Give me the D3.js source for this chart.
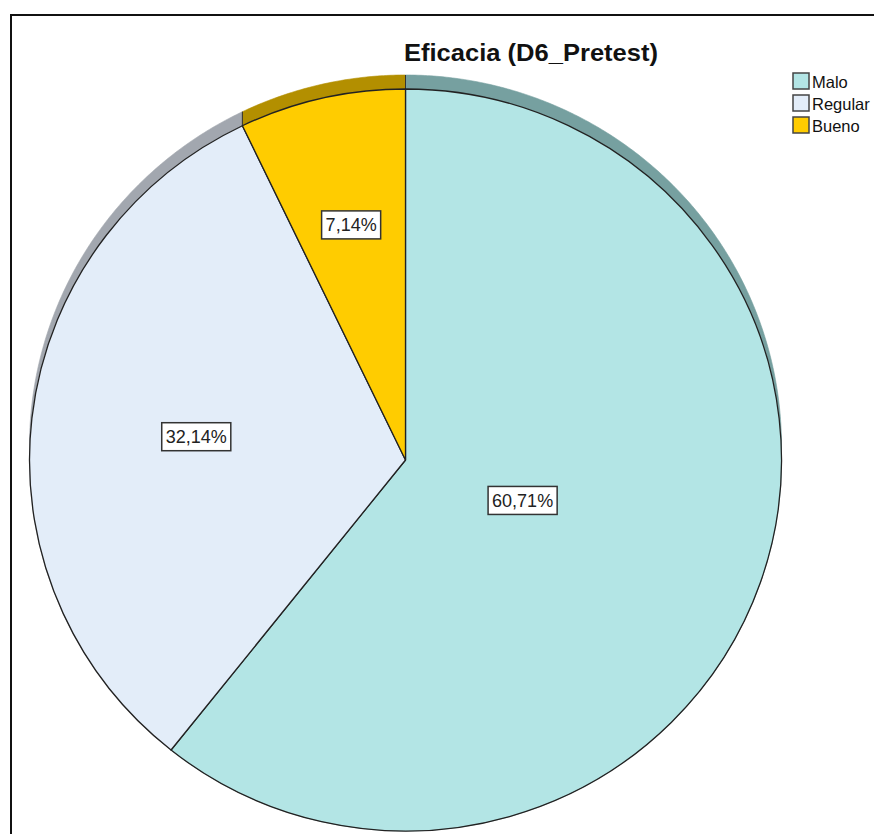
<!DOCTYPE html>
<html>
<head>
<meta charset="utf-8">
<script src="https://cdn.jsdelivr.net/npm/d3@7"></script>
<style>
  html, body { margin: 0; padding: 0; background: #fff; }
  svg { display: block; font-family: Arial, "Liberation Sans", sans-serif; }
</style>
</head>
<body>
<svg id="chart" width="874" height="834"></svg>
<script>
// Eficacia (D6_Pretest) — distribución porcentual
const title = "Eficacia (D6_Pretest)";
const categories = ["Malo", "Regular", "Bueno"];
const percents = [60.71, 32.14, 7.14];
const faceColors = ["#b3e5e5", "#e3edf9", "#ffcc00"];
const sideColors = ["#76a0a0", "#a2a7af", "#b38f00"];

// layout
const W = 874, H = 834;
const cx = 405.5, cy = 460, rx = 376, ry = 371, depth = 14;
const labelRadius = { Malo: 0.33, Regular: 0.56, Bueno: 0.65 };

const svg = d3.select("#chart");

// outer frame (runs past the right and bottom edges)
svg.append("rect")
  .attr("x", 11).attr("y", 15)
  .attr("width", W + 20).attr("height", H + 20)
  .attr("fill", "#fff").attr("stroke", "#111").attr("stroke-width", 2);

const data = categories.map((c, i) => ({ cat: c, value: percents[i], face: faceColors[i], side: sideColors[i] }));

const pie = d3.pie().sort(null).value(d => d.value).startAngle(0).endAngle(2 * Math.PI);
const arcs = pie(data);

const px = a => cx + rx * Math.sin(a);
const py = (a, off = 0) => cy - ry * Math.cos(a) - off;

// side wall of the extruded pie (visible along the upper rim)
const line = d3.line();
const wall = svg.append("g");
arcs.forEach(s => {
  const n = Math.max(8, Math.ceil((s.endAngle - s.startAngle) * 120));
  const angles = d3.range(n + 1).map(k => s.startAngle + (s.endAngle - s.startAngle) * k / n);
  const pts = angles.map(a => [px(a), py(a)])
    .concat(angles.slice().reverse().map(a => [px(a), py(a, depth)]));
  wall.append("path")
    .attr("d", line(pts) + "Z")
    .attr("fill", s.data.side)
    .attr("stroke", s.data.side)
    .attr("stroke-width", 0.6);
});
// vertical edges of the wall at slice boundaries
arcs.forEach(s => {
  const a = s.startAngle;
  if (Math.cos(a) > 0) {
    wall.append("line")
      .attr("x1", px(a)).attr("x2", px(a))
      .attr("y1", py(a)).attr("y2", py(a, depth))
      .attr("stroke", "#333").attr("stroke-width", 1);
  }
});

// top faces
const arc = d3.arc().innerRadius(0).outerRadius(rx);
const faces = svg.append("g")
  .attr("transform", `translate(${cx},${cy}) scale(1,${ry / rx})`);
faces.selectAll("path")
  .data(arcs)
  .join("path")
  .attr("d", arc)
  .attr("fill", d => d.data.face)
  .attr("stroke", "#222")
  .attr("stroke-width", 1.3)
  .attr("stroke-linejoin", "round")
  .attr("vector-effect", "non-scaling-stroke");

// percentage labels in boxes
const fmt = v => v.toFixed(2).replace(".", ",") + "%";
const labels = svg.append("g");
arcs.forEach(s => {
  const mid = (s.startAngle + s.endAngle) / 2;
  const k = labelRadius[s.data.cat];
  const lx = cx + rx * k * Math.sin(mid);
  const ly = cy - ry * k * Math.cos(mid);
  const g = labels.append("g").attr("transform", `translate(${lx},${ly})`);
  const box = g.append("rect");
  const t = g.append("text")
    .attr("text-anchor", "middle")
    .attr("dy", "0.36em")
    .attr("font-size", 18)
    .attr("fill", "#222")
    .text(fmt(s.data.value));
  const tw = t.node().getComputedTextLength();
  box.attr("x", -tw / 2 - 4).attr("y", -14)
    .attr("width", tw + 8).attr("height", 28)
    .attr("fill", "#fff").attr("stroke", "#333").attr("stroke-width", 1.5);
});

// title
svg.append("text")
  .attr("x", 531).attr("y", 61)
  .attr("text-anchor", "middle")
  .attr("font-size", 24)
  .attr("font-weight", "bold")
  .attr("fill", "#111")
  .attr("textLength", 254)
  .attr("lengthAdjust", "spacingAndGlyphs")
  .text(title);

// legend
const legend = svg.append("g").attr("transform", "translate(793,73)");
const rows = legend.selectAll("g")
  .data(data)
  .join("g")
  .attr("transform", (d, i) => `translate(0,${i * 22})`);
rows.append("rect")
  .attr("width", 16).attr("height", 16)
  .attr("fill", d => d.face)
  .attr("stroke", "#444").attr("stroke-width", 1.5);
rows.append("text")
  .attr("x", 19).attr("y", 15)
  .attr("font-size", 16.5)
  .attr("fill", "#111")
  .text(d => d.cat);
</script>
</body>
</html>
